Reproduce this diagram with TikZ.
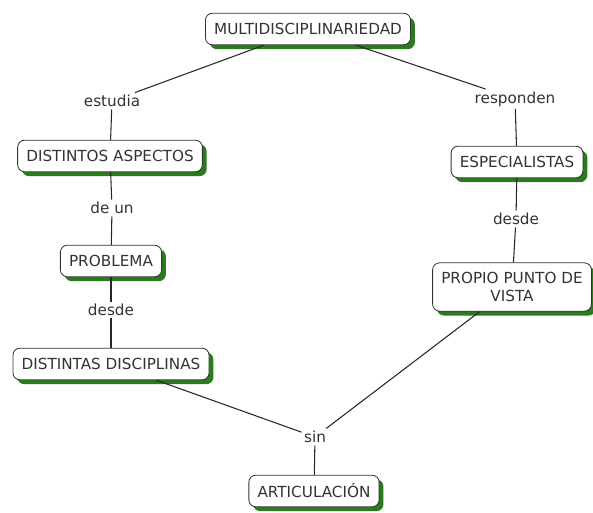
\documentclass[tikz,border=0pt]{standalone}
\usepackage{fontspec}
\setmainfont{DejaVu Sans}
\usepackage{xcolor}
\usetikzlibrary{positioning,shadows}

\definecolor{shadowgreen}{HTML}{2A7A1E}
\definecolor{inkgray}{HTML}{333333}

\begin{document}
\begin{tikzpicture}[x=0.03cm, y=-0.03cm,
  concept/.style={draw=inkgray, rounded corners=6pt, fill=white, line width=0.7pt,
                  font=\fontsize{13}{15}\selectfont, text=inkgray,
                  minimum height=0.95cm, inner xsep=0.26cm, align=center,
                  drop shadow={shadow xshift=0.13cm, shadow yshift=-0.13cm,
                               fill=shadowgreen, opacity=1}},
  link/.style={font=\fontsize{13}{15}\selectfont, text=inkgray,
               fill=white, inner sep=2pt},
  conn/.style={draw=black!85, line width=0.9pt},
]
\useasboundingbox (0,0) rectangle (593,513);

% concepts
\node[concept] (multi) at (308,29) {MULTIDISCIPLINARIEDAD};
\node[concept] (aspectos) at (110,156) {DISTINTOS ASPECTOS};
\node[concept] (problema) at (111,261) {PROBLEMA};
\node[concept] (disciplinas) at (111,364) {DISTINTAS DISCIPLINAS};
\node[concept] (especialistas) at (517,162) {ESPECIALISTAS};
\node[concept, minimum height=1.45cm] (punto) at (512,287) {PROPIO PUNTO DE\\VISTA};
\node[concept] (articulacion) at (314,491) {ARTICULACIÓN};

% linking phrases
\node[link] (estudia) at (112,101) {estudia};
\node[link] (deun) at (112,208) {de un};
\node[link] (desdeL) at (111,310) {desde};
\node[link] (responden) at (515,99) {responden};
\node[link] (desdeR) at (516,219) {desde};
\node[link] (sin) at (315,437) {sin};

% left branch
\draw[conn] (multi) -- (estudia) -- (aspectos);
\draw[conn] (aspectos) -- (deun) -- (problema);
\draw[conn] (problema) -- (desdeL) -- (disciplinas);

% right branch
\draw[conn] (multi) -- (responden) -- (especialistas);
\draw[conn] (especialistas) -- (desdeR) -- (punto);

% join
\draw[conn] (disciplinas) -- (sin);
\draw[conn] (punto) -- (sin);
\draw[conn] (sin) -- (articulacion);
\end{tikzpicture}
\end{document}
